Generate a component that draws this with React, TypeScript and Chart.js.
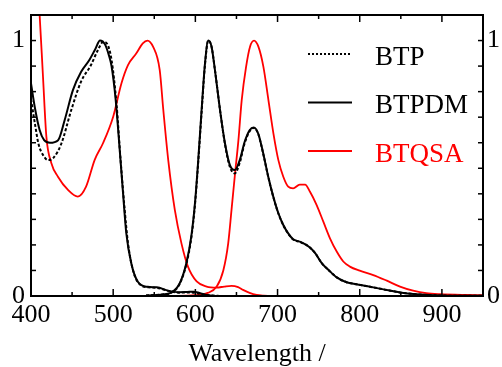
import React, { useEffect, useRef } from "react";
import { Chart, registerables } from "chart.js";

Chart.register(...registerables);

// ---- Data (wavelength in nm, normalized intensity) ----
const btpAbsNm = [400, 405, 409, 415, 421, 427, 437, 449, 461, 473, 481, 488, 493, 498, 504, 509, 514, 518, 524, 531, 543, 553, 567, 580, 592, 600, 610, 620, 630];
const btpAbsVal = [0.77, 0.67, 0.597, 0.55, 0.532, 0.54, 0.597, 0.728, 0.84, 0.904, 0.96, 0.995, 0.985, 0.924, 0.754, 0.533, 0.337, 0.207, 0.102, 0.05, 0.034, 0.032, 0.02, 0.013, 0.014, 0.012, 0.005, 0.002, 0];

const btpEmNm = [540, 560, 570, 581, 589, 595, 599.5, 603.5, 607.6, 611.7, 615.7, 619.7, 623.8, 630, 636, 642, 648, 654, 660, 666, 671, 676.5, 682.6, 688.7, 694.8, 701, 707, 713, 719, 727, 735, 741, 746, 754, 762, 772, 784, 796, 808, 829, 849, 869, 890, 920, 950];
const btpEmVal = [0.002, 0.006, 0.012, 0.048, 0.124, 0.226, 0.356, 0.525, 0.72, 0.905, 1.0, 0.976, 0.885, 0.728, 0.595, 0.505, 0.48, 0.522, 0.598, 0.645, 0.658, 0.634, 0.556, 0.466, 0.388, 0.323, 0.277, 0.244, 0.221, 0.212, 0.2, 0.185, 0.167, 0.128, 0.102, 0.073, 0.054, 0.046, 0.039, 0.026, 0.014, 0.007, 0.003, 0.001, 0.001];

const btpdmAbsNm = [400, 404.5, 410.5, 416, 423, 433, 441, 451, 461, 471, 478, 484, 490, 495, 498, 503, 508, 512, 516, 522, 530, 542, 553, 567, 580, 590, 598, 605, 615, 625];
const btpdmAbsVal = [0.832, 0.741, 0.65, 0.61, 0.6, 0.61, 0.689, 0.806, 0.878, 0.924, 0.965, 1.0, 0.985, 0.94, 0.9, 0.77, 0.57, 0.403, 0.245, 0.128, 0.056, 0.036, 0.034, 0.021, 0.015, 0.016, 0.017, 0.012, 0.003, 0];

const btpdmEmNm = [540, 560, 570, 581, 589, 595, 599.5, 603.5, 607.6, 611.7, 615.7, 619.7, 623.8, 630, 636, 642, 648, 654, 660, 666, 671, 676.5, 682.6, 688.7, 694.8, 701, 707, 713, 719, 727, 735, 741, 746, 754, 762, 772, 784, 796, 808, 829, 849, 869, 890, 920, 950];
const btpdmEmVal = [0.002, 0.006, 0.012, 0.05, 0.128, 0.232, 0.363, 0.532, 0.728, 0.91, 1.0, 0.976, 0.885, 0.728, 0.598, 0.512, 0.493, 0.532, 0.604, 0.649, 0.66, 0.636, 0.558, 0.467, 0.389, 0.324, 0.278, 0.245, 0.222, 0.213, 0.2, 0.185, 0.167, 0.128, 0.102, 0.073, 0.054, 0.046, 0.039, 0.026, 0.014, 0.007, 0.003, 0.001, 0.001];

const btqsaAbsNm = [400, 405, 410.5, 414.6, 418.7, 424.8, 432.8, 445, 457, 467, 477.5, 487.6, 500, 510, 518, 528, 536, 541.6, 548.5, 556.6, 561, 567, 575, 583, 591, 601.6, 613.7, 626, 635, 644, 652, 658, 666, 674.5, 683, 691];
const btqsaAbsVal = [1.6, 1.35, 1.1, 0.858, 0.624, 0.52, 0.467, 0.415, 0.389, 0.428, 0.533, 0.598, 0.702, 0.832, 0.904, 0.949, 0.989, 1.0, 0.976, 0.885, 0.728, 0.532, 0.337, 0.207, 0.115, 0.057, 0.037, 0.033, 0.037, 0.04, 0.035, 0.024, 0.012, 0.004, 0.001, 0];

const btqsaEmNm = [570, 600, 615, 626, 634, 640, 644, 648.3, 652.4, 656.4, 661.7, 666.5, 671.4, 676.7, 682.8, 688.9, 695, 701, 707, 713, 719, 727, 733.5, 739.5, 747.6, 755.7, 763.8, 772, 780, 788, 800, 816.5, 833, 849, 865, 881, 898, 930, 950];
const btqsaEmVal = [0.0, 0.003, 0.012, 0.037, 0.1, 0.207, 0.337, 0.48, 0.61, 0.767, 0.897, 0.976, 1.0, 0.976, 0.897, 0.767, 0.636, 0.532, 0.467, 0.428, 0.421, 0.436, 0.436, 0.408, 0.356, 0.291, 0.226, 0.174, 0.135, 0.115, 0.099, 0.082, 0.06, 0.037, 0.021, 0.011, 0.007, 0.004, 0.003];

const seriesLabels = ["BTP", "BTPDM", "BTQSA"];
const xTickLabels = [400, 500, 600, 700, 800, 900];
const yTickLabels = [0, 1];
const xTitle = "Wavelength /";

const FONT = "'Liberation Serif', 'Times New Roman', serif";

const pts = (xs: number[], ys: number[]) => xs.map((x, i) => ({ x, y: ys[i] }));

const yLabelCb = (v: any) => {
  const n = Number(v);
  const hit = yTickLabels.find((t) => Math.abs(t - n) < 1e-6);
  return hit !== undefined ? String(hit) : "";
};

const framePlugin = {
  id: "frameTicksLegend",
  afterDraw(chart: any) {
    const { ctx, chartArea: a, scales } = chart;
    ctx.save();
    ctx.strokeStyle = "#000";
    ctx.lineWidth = 2;
    ctx.setLineDash([]);
    ctx.strokeRect(a.left, a.top, a.right - a.left, a.bottom - a.top);
    const seg = (x1: number, y1: number, x2: number, y2: number) => {
      ctx.beginPath();
      ctx.moveTo(x1, y1);
      ctx.lineTo(x2, y2);
      ctx.stroke();
    };
    ctx.lineWidth = 1.5;
    const xs = scales.x;
    xs.ticks.forEach((t: any) => {
      const px = xs.getPixelForValue(t.value);
      if (px <= a.left + 1 || px >= a.right - 1) return;
      const len = t.value % 100 === 0 ? 7 : 4;
      seg(px, a.bottom, px, a.bottom - len);
      seg(px, a.top, px, a.top + len);
    });
    const ys = scales.y;
    ys.ticks.forEach((t: any) => {
      const py = ys.getPixelForValue(t.value);
      if (py <= a.top + 1 || py >= a.bottom - 1) return;
      seg(a.left, py, a.left + 5, py);
      seg(a.right, py, a.right - 5, py);
    });

    // legend inside the plot
    const seen: string[] = [];
    const entries: any[] = [];
    chart.data.datasets.forEach((ds: any) => {
      if (seriesLabels.includes(ds.label) && !seen.includes(ds.label)) {
        seen.push(ds.label);
        entries.push(ds);
      }
    });
    entries.sort((p, q) => seriesLabels.indexOf(p.label) - seriesLabels.indexOf(q.label));
    entries.forEach((ds, i) => {
      const ly = 54 + i * 48.5;
      ctx.strokeStyle = ds.borderColor;
      ctx.lineWidth = ds.borderWidth;
      ctx.setLineDash(ds.label === "BTP" ? [2, 2] : []);
      seg(308, ly, 352, ly);
      ctx.setLineDash([]);
      ctx.fillStyle = ds.label === "BTQSA" ? "#ff0000" : "#000";
      ctx.font = `27px ${FONT}`;
      ctx.textBaseline = "alphabetic";
      ctx.textAlign = "left";
      ctx.fillText(ds.label, 375, ly + 10.5);
    });
    ctx.restore();
  },
};

export default function App() {
  const ref = useRef<HTMLCanvasElement | null>(null);
  useEffect(() => {
    if (!ref.current) return;
    const black = "#000000";
    const red = "#ff0000";
    const common = {
      pointRadius: 0,
      cubicInterpolationMode: "monotone" as const,
      fill: false,
    };
    const fitY = (w: number) => (s: any) => {
      s.width = w;
      s.paddingTop = 0;
      s.paddingBottom = 0;
    };
    const chart = new Chart(ref.current, {
      type: "line",
      data: {
        datasets: [
          { ...common, label: "BTP", data: pts(btpAbsNm, btpAbsVal), borderColor: black, borderWidth: 2, borderDash: [3, 2] },
          { ...common, label: "BTP", data: pts(btpEmNm, btpEmVal), borderColor: black, borderWidth: 2, borderDash: [3, 2] },
          { ...common, label: "BTPDM", data: pts(btpdmAbsNm, btpdmAbsVal), borderColor: black, borderWidth: 2 },
          { ...common, label: "BTPDM", data: pts(btpdmEmNm, btpdmEmVal), borderColor: black, borderWidth: 2 },
          { ...common, label: "BTQSA", data: pts(btqsaAbsNm, btqsaAbsVal), borderColor: red, borderWidth: 1.8 },
          { ...common, label: "BTQSA", data: pts(btqsaEmNm, btqsaEmVal), borderColor: red, borderWidth: 1.8 },
        ],
      },
      options: {
        responsive: true,
        maintainAspectRatio: false,
        animation: false,
        layout: { padding: { top: 15, left: 0, right: 0, bottom: 0 } },
        plugins: { legend: { display: false }, tooltip: { enabled: false } },
        scales: {
          x: {
            type: "linear",
            position: "bottom",
            min: 400,
            max: 950,
            afterFit: (s: any) => {
              s.height = 71;
              s.paddingLeft = 0;
              s.paddingRight = 0;
            },
            grid: { display: false, drawTicks: false },
            border: { display: false },
            ticks: {
              stepSize: 50,
              autoSkip: false,
              maxRotation: 0,
              padding: 4,
              color: "#000",
              font: { family: FONT, size: 26 },
              callback: (v: any) => (xTickLabels.includes(Number(v)) ? String(v) : ""),
            },
            title: {
              display: true,
              text: xTitle,
              color: "#000",
              font: { family: FONT, size: 26, lineHeight: 1 },
              padding: { top: 0, bottom: 0 },
            },
          },
          y: {
            position: "left",
            min: 0,
            max: 1.1,
            afterFit: fitY(31),
            grid: { display: false, drawTicks: false },
            border: { display: false },
            ticks: {
              stepSize: 0.1,
              autoSkip: false,
              padding: 6,
              color: "#000",
              font: { family: FONT, size: 26 },
              callback: yLabelCb,
            },
          },
          y2: {
            position: "right",
            min: 0,
            max: 1.1,
            afterFit: fitY(19),
            grid: { display: false, drawTicks: false },
            border: { display: false },
            ticks: {
              stepSize: 0.1,
              autoSkip: false,
              padding: 4,
              color: "#000",
              font: { family: FONT, size: 26 },
              callback: yLabelCb,
            },
          },
        },
      },
      plugins: [framePlugin],
    });
    return () => chart.destroy();
  }, []);
  return (
    <div style={{ position: "absolute", left: 0, top: 0, width: 502, height: 367, background: "#fff" }}>
      <canvas ref={ref} />
    </div>
  );
}
